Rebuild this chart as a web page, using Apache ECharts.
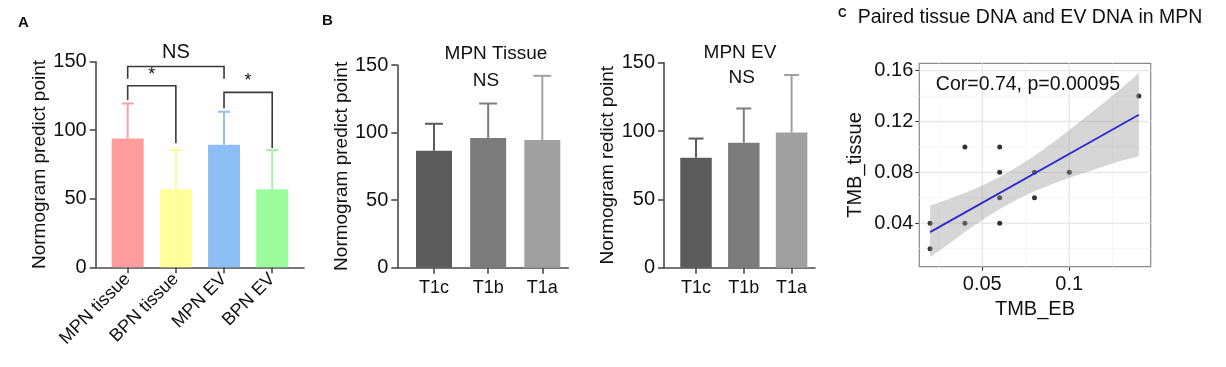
<!DOCTYPE html>
<html>
<head>
<meta charset="utf-8">
<script src="https://cdn.jsdelivr.net/npm/echarts@6/dist/echarts.min.js"></script>
<style>
html,body{margin:0;padding:0;background:#fff;}
#c{width:1226px;height:367px;}
</style>
</head>
<body>
<div id="c"></div>
<script>
// ---------- DATA ----------
// Panel A
const catsA = ['MPN tissue', 'BPN tissue', 'MPN EV', 'BPN EV'];
const meansA = [94, 57, 89.5, 57];
const sdA = [25.5, 28.5, 24, 28.5];
const colorsA = ['#FF9D9D', '#FFFF9C', '#8EBEF6', '#9DFC9D'];
const errColorsA = ['#F5A3A3', '#F8F8A0', '#93BDF0', '#A6F2A6'];
// significance brackets: [fromCat, toCat, topY, leftEndY, rightEndY]
const bracketsA = [[0, 2, 146.5, 137.5, 137.5], [0, 1, 132.5, 122, 90.5], [2, 3, 127.6, 116, 87]];
const bracketLabelsA = ['NS', '*', '*'];
// Panel B
const catsB = ['T1c', 'T1b', 'T1a'];
const tissueMeans = [86.5, 96, 94.5];
const tissueSD = [20, 25.5, 47.5];
const evMeans = [80.5, 91.5, 99];
const evSD = [14, 25, 42];
const colorsB = ['#5C5C5C', '#7C7C7C', '#A0A0A0'];
const yTicksBar = [0, 50, 100, 150];
// Panel C
const tmbEB = [0.02, 0.02, 0.04, 0.04, 0.06, 0.06, 0.06, 0.06, 0.08, 0.08, 0.10, 0.14];
const tmbTissue = [0.04, 0.02, 0.10, 0.04, 0.10, 0.08, 0.06, 0.04, 0.08, 0.06, 0.08, 0.14];
const fitX = [0.02, 0.14];
const fitY = [0.033, 0.1253];
const bandX = [0.02, 0.03, 0.04, 0.05, 0.06, 0.07, 0.08, 0.09, 0.10, 0.11, 0.12, 0.13, 0.14];
const bandLow = [0.0135, 0.0228, 0.0330, 0.0426, 0.0512, 0.0587, 0.0651, 0.0706, 0.0757, 0.0803, 0.0848, 0.0891, 0.0926];
const bandHigh = [0.0540, 0.0586, 0.0638, 0.0696, 0.0764, 0.0843, 0.0931, 0.1030, 0.1133, 0.1241, 0.1350, 0.1461, 0.1582];
const xTicksC = [0.05, 0.1];
const xMinorC = [0.025, 0.075, 0.125];
const yTicksC = [0.04, 0.08, 0.12, 0.16];
const yMinorC = [0.02, 0.06, 0.10, 0.14];

// ---------- CHART ----------
const FONT = 'Liberation Sans, Arial, Helvetica, sans-serif';
const AX = '#4a4a4a';
const chart = echarts.init(document.getElementById('c'), null, {renderer: 'canvas'});

function idx(n) { return Array.from({length: n}, (_, i) => i); }

function barXAxis(gridIndex, cats, min, max, rotate, fontSize, margin) {
  return {
    type: 'value', gridIndex, min, max,
    axisLine: {show: true, onZero: false, lineStyle: {color: AX, width: 1.6}},
    axisTick: {show: true, customValues: idx(cats.length), length: 6, lineStyle: {color: AX, width: 1.6}},
    axisLabel: {show: true, customValues: idx(cats.length), formatter: v => cats[Math.round(v)],
      rotate, fontSize, color: '#111', fontFamily: FONT, margin},
    splitLine: {show: false}
  };
}
function barYAxis(gridIndex, name, nameGap) {
  return {
    type: 'value', gridIndex, min: 0, max: 150, interval: 50,
    name, nameLocation: 'middle', nameGap,
    nameTextStyle: {fontSize: 19, color: '#111', fontFamily: FONT},
    axisLine: {show: true, onZero: false, lineStyle: {color: AX, width: 1.6}},
    axisTick: {show: true, length: 6, lineStyle: {color: AX, width: 1.6}},
    axisLabel: {fontSize: 20, color: '#111', fontFamily: FONT, margin: 9,
      formatter: v => String(yTicksBar.find(t => t === v) ?? v)},
    splitLine: {show: false}
  };
}
function barSeries(axisIdx, means, colors, width) {
  return {
    type: 'bar', xAxisIndex: axisIdx, yAxisIndex: axisIdx, barWidth: width, z: 2,
    data: means.map((m, i) => ({value: [i, m], itemStyle: {color: colors[i]}}))
  };
}
function errSeries(axisIdx, means, sds, colors, capW, lw) {
  return {
    type: 'custom', xAxisIndex: axisIdx, yAxisIndex: axisIdx, z: 1,
    data: means.map((m, i) => [i, m, m + sds[i]]),
    renderItem: (params, api) => {
      const i = api.value(0);
      const p0 = api.coord([i, api.value(1)]);
      const p1 = api.coord([i, api.value(2)]);
      const c = colors[params.dataIndex];
      return {type: 'group', children: [
        {type: 'line', shape: {x1: p0[0], y1: p0[1], x2: p1[0], y2: p1[1]}, style: {stroke: c, lineWidth: lw}},
        {type: 'line', shape: {x1: p1[0] - capW / 2, y1: p1[1], x2: p1[0] + capW / 2, y2: p1[1]}, style: {stroke: c, lineWidth: lw}}
      ]};
    }
  };
}
// grid lines for panel C, drawn beneath the points
function gridLineSeries(values, dir, color, width) {
  return {
    type: 'custom', xAxisIndex: 3, yAxisIndex: 3, z: 1, silent: true,
    data: values.map(v => dir === 'x' ? [v, 0.08] : [0.08, v]),
    renderItem: (params, api) => {
      const cs = params.coordSys;
      const p = api.coord([api.value(0), api.value(1)]);
      const shape = dir === 'x'
        ? {x1: p[0], y1: cs.y, x2: p[0], y2: cs.y + cs.height}
        : {x1: cs.x, y1: p[1], x2: cs.x + cs.width, y2: p[1]};
      return {type: 'line', shape, style: {stroke: color, lineWidth: width}};
    }
  };
}

const option = {
  animation: false,
  backgroundColor: '#fff',
  textStyle: {fontFamily: FONT},
  grid: [
    {left: 95.7, top: 61.7, width: 208.3, height: 205.6},
    {left: 397.3, top: 65, width: 171, height: 202.7},
    {left: 664, top: 62.7, width: 151, height: 205},
    {left: 919.3, top: 63.3, width: 231.4, height: 203.4, show: true, backgroundColor: '#fff', borderColor: '#8a8a8a', borderWidth: 1.2}
  ],
  xAxis: [
    barXAxis(0, catsA, -0.664, 3.66, 45, 18, 9),
    barXAxis(1, catsB, -0.678, 2.48, 0, 18, 11),
    barXAxis(2, catsB, -0.67, 2.49, 0, 18, 11),
    {
      type: 'value', gridIndex: 3, min: 0.0138, max: 0.1468,
      name: 'TMB_EB', nameLocation: 'middle', nameGap: 32,
      nameTextStyle: {fontSize: 20, color: '#111', fontFamily: FONT},
      axisLine: {show: false, onZero: false},
      axisTick: {show: true, customValues: xTicksC, length: 4, lineStyle: {color: '#333'}},
      axisLabel: {customValues: xTicksC, formatter: v => String(v), fontSize: 20, color: '#111', fontFamily: FONT, margin: 8},
      splitLine: {show: false}
    }
  ],
  yAxis: [
    barYAxis(0, 'Normogram predict point', 44),
    barYAxis(1, 'Normogram predict point', 40),
    barYAxis(2, 'Normogram redict point', 47),
    {
      type: 'value', gridIndex: 3, min: 0.0058, max: 0.1658,
      name: 'TMB_tissue', nameLocation: 'middle', nameGap: 54,
      nameTextStyle: {fontSize: 20, color: '#111', fontFamily: FONT},
      axisLine: {show: false, onZero: false},
      axisTick: {show: true, customValues: yTicksC, length: 4, lineStyle: {color: '#333'}},
      axisLabel: {customValues: yTicksC, formatter: v => v.toFixed(2), fontSize: 20, color: '#111', fontFamily: FONT, margin: 6},
      splitLine: {show: false}
    }
  ],
  series: [
    // Panel A
    barSeries(0, meansA, colorsA, 32),
    errSeries(0, meansA, sdA, errColorsA, 12, 2),
    {
      type: 'custom', xAxisIndex: 0, yAxisIndex: 0, z: 5,
      data: bracketsA,
      renderItem: (params, api) => {
        const a = api.coord([api.value(0), api.value(2)]);
        const b = api.coord([api.value(1), api.value(2)]);
        const la = api.coord([api.value(0), api.value(3)]);
        const lb = api.coord([api.value(1), api.value(4)]);
        const lbl = bracketLabelsA[params.dataIndex];
        const isStar = lbl === '*';
        return {type: 'group', children: [
          {type: 'polyline', shape: {points: [[la[0], la[1]], a, b, [lb[0], lb[1]]]}, style: {stroke: '#3a3a3a', lineWidth: 1.6, fill: null}},
          {type: 'text', x: (a[0] + b[0]) / 2, y: a[1] - (isStar ? 2 : 4),
            style: {text: lbl, fontSize: isStar ? 18 : 20, fill: '#111', fontFamily: FONT, align: 'center', verticalAlign: 'bottom'}}
        ]};
      }
    },
    // Panel B left
    barSeries(1, tissueMeans, colorsB, 36),
    errSeries(1, tissueMeans, tissueSD, colorsB, 18, 2),
    // Panel B right
    barSeries(2, evMeans, colorsB, 31.5),
    errSeries(2, evMeans, evSD, colorsB, 15, 2),
    // Panel C grid lines
    gridLineSeries(xMinorC, 'x', '#f3f3f3', 0.8),
    gridLineSeries(yMinorC, 'y', '#f3f3f3', 0.8),
    gridLineSeries(xTicksC, 'x', '#e6e6e6', 1.3),
    gridLineSeries(yTicksC, 'y', '#e6e6e6', 1.3),
    // points
    {
      type: 'scatter', xAxisIndex: 3, yAxisIndex: 3, z: 2, symbolSize: 5,
      itemStyle: {color: '#000'},
      data: tmbEB.map((x, i) => [x, tmbTissue[i]])
    },
    // confidence band
    {
      type: 'custom', xAxisIndex: 3, yAxisIndex: 3, z: 3,
      data: bandX.map((x, i) => [x, bandLow[i], bandHigh[i]]),
      renderItem: (params, api) => {
        if (params.dataIndex !== 0) return null;
        const up = bandX.map((x, i) => api.coord([x, bandHigh[i]]));
        const lo = bandX.map((x, i) => api.coord([x, bandLow[i]])).reverse();
        return {type: 'polygon', shape: {points: up.concat(lo)}, style: {fill: 'rgba(153,153,153,0.4)', stroke: null}};
      }
    },
    // fit line
    {
      type: 'line', xAxisIndex: 3, yAxisIndex: 3, z: 4, symbol: 'none',
      lineStyle: {color: '#2a2ad0', width: 1.8},
      data: fitX.map((x, i) => [x, fitY[i]])
    }
  ],
  graphic: [
    {type: 'text', left: 18, top: 15, style: {text: 'A', fontSize: 15, fontWeight: 'bold', fill: '#111', fontFamily: FONT}},
    {type: 'text', left: 322, top: 13, style: {text: 'B', fontSize: 15, fontWeight: 'bold', fill: '#111', fontFamily: FONT}},
    {type: 'text', left: 838, top: 8, style: {text: 'C', fontSize: 12, fontWeight: 'bold', fill: '#111', fontFamily: FONT}},
    {type: 'text', x: 496, y: 54, style: {text: 'MPN Tissue', fontSize: 19, fill: '#111', fontFamily: FONT, align: 'center', verticalAlign: 'middle'}},
    {type: 'text', x: 486, y: 80.5, style: {text: 'NS', fontSize: 19, fill: '#111', fontFamily: FONT, align: 'center', verticalAlign: 'middle'}},
    {type: 'text', x: 740, y: 52.7, style: {text: 'MPN EV', fontSize: 19, fill: '#111', fontFamily: FONT, align: 'center', verticalAlign: 'middle'}},
    {type: 'text', x: 741.7, y: 77.3, style: {text: 'NS', fontSize: 19, fill: '#111', fontFamily: FONT, align: 'center', verticalAlign: 'middle'}},
    {type: 'text', x: 1030, y: 18, style: {text: 'Paired tissue DNA and EV DNA in MPN', fontSize: 19.5, fill: '#111', fontFamily: FONT, align: 'center', verticalAlign: 'middle'}},
    {type: 'text', x: 1028, y: 85, z: 10, style: {text: 'Cor=0.74, p=0.00095', fontSize: 19.5, fill: '#111', fontFamily: FONT, align: 'center', verticalAlign: 'middle'}}
  ]
};
chart.setOption(option);
</script>
</body>
</html>
